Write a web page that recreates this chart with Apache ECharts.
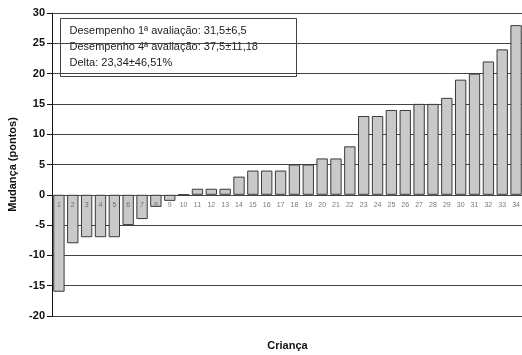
<!DOCTYPE html>
<html><head><meta charset="utf-8">
<script src="https://cdn.jsdelivr.net/npm/echarts@6/dist/echarts.min.js"></script>
<style>html,body{margin:0;padding:0;background:#fff}#c{width:522px;height:355px}</style>
</head><body><div id="c"></div>
<script>
const categories = ['1','2','3','4','5','6','7','8','9','10','11','12','13','14','15','16','17','18','19','20','21','22','23','24','25','26','27','28','29','30','31','32','33','34'];
const values = [-16,-8,-7,-7,-7,-5,-4,-2,-1,0,1,1,1,3,4,4,4,5,5,6,6,8,13,13,14,14,15,15,16,19,20,22,24,28];
const yTicks = [-20,-15,-10,-5,0,5,10,15,20,25,30];
const legendLines = ['Desempenho 1ª avaliação: 31,5±6,5','Desempenho 4ª avaliação: 37,5±11,18','Delta: 23,34±46,51%'];

const chart = echarts.init(document.getElementById('c'));
const F = 'Liberation Sans, Arial, sans-serif';
chart.setOption({
  animation: false,
  grid: {left: 52, right: -1, top: 13, bottom: 39, outerBoundsMode: 'none', containLabel: false},
  xAxis: {
    type: 'category', data: categories,
    name: 'Criança', nameLocation: 'middle', nameGap: 24,
    nameTextStyle: {fontFamily: F, fontWeight: 'bold', fontSize: 11, color: '#111'},
    axisLine: {onZero: false, show: false},
    axisTick: {show: false},
    axisLabel: {show: false}
  },
  yAxis: {
    type: 'value', min: yTicks[0], max: yTicks[yTicks.length-1], interval: 5,
    name: 'Mudança (pontos)', nameLocation: 'middle', nameGap: 32,
    nameTextStyle: {fontFamily: F, fontWeight: 'bold', fontSize: 11, color: '#111'},
    axisLine: {show: true, lineStyle: {color: '#111', width: 1}},
    axisTick: {show: true, length: 5, lineStyle: {color: '#111'}},
    axisLabel: {fontFamily: F, fontWeight: 'bold', fontSize: 11, color: '#111', margin: 7},
    splitLine: {lineStyle: {color: '#444', width: 1}}
  },
  series: [{
    type: 'bar', data: values, barCategoryGap: '18%', z: 2,
    itemStyle: {color: '#c9c9c9', borderColor: '#3a3a3a', borderWidth: 1}
  }, {
    type: 'scatter', data: categories.map(c => [c, 0]), symbolSize: 0, z: 5, silent: true,
    label: {show: true, position: 'bottom', distance: 7, formatter: p => p.data[0],
      fontFamily: F, fontSize: 7, color: '#555'}
  }],
  graphic: [{
    type: 'group', left: 60, top: 18,
    children: [
      {type: 'rect', shape: {x: 0, y: 0, width: 236, height: 58}, style: {fill: '#fff', stroke: '#444', lineWidth: 1}},
      {type: 'text', x: 9, y: 7, style: {text: legendLines[0], font: '11px ' + F, fill: '#222'}},
      {type: 'text', x: 9, y: 23, style: {text: legendLines[1], font: '11px ' + F, fill: '#222'}},
      {type: 'text', x: 9, y: 39, style: {text: legendLines[2], font: '11px ' + F, fill: '#222'}}
    ]
  }]
});
</script></body></html>
